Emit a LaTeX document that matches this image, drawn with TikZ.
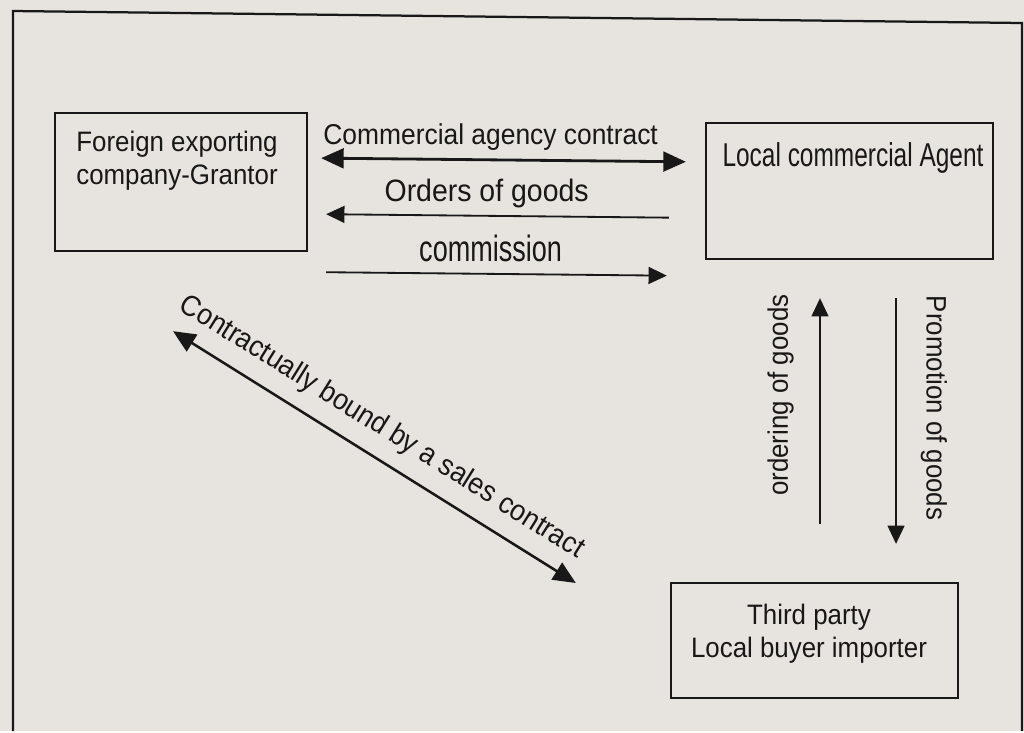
\documentclass[tikz,border=0pt]{standalone}
\usepackage{fontspec}
\setmainfont{Liberation Sans}[FakeStretch=0.92]
\newfontfamily\narrowfont{Liberation Sans}[FakeStretch=0.74]
\usetikzlibrary{arrows.meta}
\definecolor{paper}{RGB}{231, 227, 222}
\definecolor{ink}{RGB}{24, 24, 24}

\begin{document}
\begin{tikzpicture}[x=0.025cm, y=-0.025cm]
    \tikzstyle{party} = [rectangle, draw=ink, line width=1.6pt, minimum width=7.175cm];
    \tikzstyle{ptext} = [text=ink, align=center, inner sep=0pt, anchor=north,
    font=\fontsize{20}{23.5}\selectfont];
    \tikzstyle{lbl} = [text=ink, inner sep=2pt, font=\fontsize{20}{24}\selectfont];
    \tikzstyle{bigline} = [draw=ink, line width=2pt,
    {Triangle[length=16pt,width=14pt]}-{Triangle[length=16pt,width=14pt]}];
    \tikzstyle{line} = [draw=ink, line width=1.3pt, -{Triangle[length=13pt,width=12pt]}];

    % paper and frame
    \fill[paper] (0,0) rectangle (1024,731);
    \draw[ink, line width=1.6pt] (13,731) -- (13,11) -- (1022,23) -- (1022,731);

    % the three parties
    \node [party, minimum width=6.3cm, minimum height=3.45cm] (grantor) at (181,182) {};
    \node [party, minimum height=3.4cm] (agent) at (849.5,191) {};
    \node [party, minimum height=2.875cm] (buyer) at (814.5,640.5) {};
    \node [ptext] (grantortext) at (177,131) {Foreign exporting\\company-Grantor};
    \node [ptext, font=\narrowfont\fontsize{23.5}{28}\selectfont] (agenttext) at (853,142)
      {Local commercial Agent};
    \node [ptext] (buyertext) at (809,604) {Third party\\Local buyer importer};

    % % Drawing the links
    \draw [bigline, shorten <=0.325cm, shorten >=0.475cm] ([yshift=0.6cm]grantor.east) --
      node[lbl, above=4pt, pos=0.46, font=\fontsize{20.4}{24}\selectfont] (agencylbl)
      {Commercial agency contract} ([yshift=0.725cm]agent.west);
    \draw [line, shorten <=0.9cm, shorten >=0.45cm] ([yshift=-0.675cm]agent.west) --
      node[lbl, above=3pt, pos=0.55, font=\fontsize{22}{26}\selectfont] (orderslbl)
      {Orders of goods} ([yshift=-0.8cm]grantor.east);
    \draw [line, shorten <=0.45cm, shorten >=0.95cm] ([yshift=-2.25cm]grantor.east) --
      node[lbl, above=5.8pt, pos=0.46, font=\narrowfont\fontsize{26}{30}\selectfont] (commlbl)
      {commission} ([yshift=-2.125cm]agent.west);
    \draw [bigline, line width=1.8pt] ([xshift=-0.2cm, yshift=-1.975cm]grantor.south) --
      node[lbl, above=8pt, sloped, pos=0.48, font=\fontsize{20.8}{24}\selectfont] (salelbl)
      {Contractually bound by a sales contract} ([xshift=-2.35cm, yshift=1.4375cm]buyer.west);
    \draw [line, shorten <=1.45cm, shorten >=0.95cm] ([xshift=0.1375cm]buyer.north) --
      node[lbl, rotate=90, above=16pt, pos=0.58] (orderinglbl) {ordering of goods}
      ([xshift=-0.7375cm]agent.south);
    \draw [line, shorten <=0.95cm, shorten >=0.95cm] ([xshift=1.1625cm]agent.south) --
      node[lbl, rotate=-90, above=15pt, pos=0.46] (promolbl) {Promotion of goods}
      ([xshift=2.0375cm]buyer.north);
\end{tikzpicture}
\end{document}
